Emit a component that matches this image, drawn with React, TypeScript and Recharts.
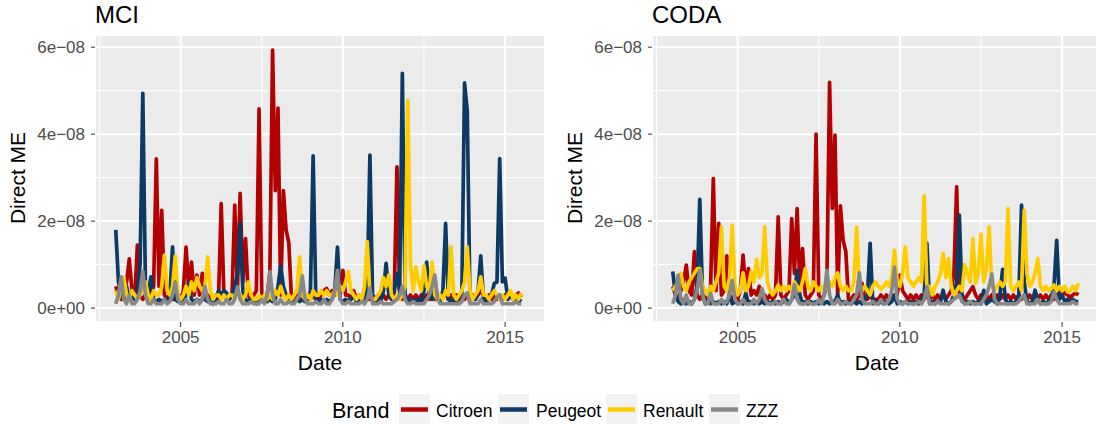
import { LineChart, Line, XAxis, YAxis, CartesianGrid, ReferenceLine } from 'recharts'

const brands = ['Citroen', 'Peugeot', 'Renault', 'ZZZ']
const brandColors = ['#b30000', '#0d3a64', '#ffcc00', '#888888']

const xTicks = [2005, 2010, 2015]
const xMinor = [2002.5, 2007.5, 2012.5]
const yTicks = [0, 20, 40, 60]
const yMinor = [10, 30, 50]
const yTickLabels = ['0e+00', '2e\u221208', '4e\u221208', '6e\u221208']

// monthly values, Jan 2003 .. Jul 2015, in units of 1e-9
const mciCitroen = [
  5, 3, 2, 4, 6, 11.3, 4, 2, 14.5, 3, 2, 3,
  2, 3, 5, 34.3, 5, 22.5, 3, 2, 3, 2, 2, 3,
  2, 4, 14, 4, 10.6, 3, 7.6, 3, 8, 2, 3, 2,
  2, 3, 2, 24, 3, 2, 2, 3, 23.7, 4, 26.4, 6,
  16, 3, 2, 3, 4, 45.8, 3, 2, 3, 8, 59.3, 27,
  46, 3, 27, 18, 15, 2, 2, 3, 2, 2, 3, 2,
  2, 3, 2, 2, 3, 4, 4.5, 3, 4, 3, 4, 3,
  8.7, 3, 3, 2, 4, 2, 3, 2, 3, 2, 2, 3,
  2, 3, 2, 3, 2, 3, 2, 3, 32.5, 3, 2, 3,
  2, 3, 2, 3, 2, 3, 2, 3, 2, 3, 2, 3,
  2, 3, 3.5, 2, 3, 2, 3, 2, 3, 2, 3, 2,
  3, 2, 3, 4, 3, 2, 3, 2, 3, 2, 3, 2,
  3, 2, 3, 2, 3, 3.5, 2.5,
]
const mciPeugeot = [
  18, 6, 3, 2, 5, 2, 3, 2, 4, 10, 49.4, 4,
  3, 7.2, 2, 1.5, 2, 1.5, 2, 1.5, 3, 14.1, 2, 1.5,
  2, 1.5, 3, 5.8, 2, 1.5, 2, 1.5, 2, 2, 1.5, 2,
  1, 2, 4, 3, 4, 3.5, 2, 3, 5, 8, 19.5, 4,
  2, 1.5, 2, 1.5, 1, 1.5, 2, 3, 1.5, 2, 1.5, 2,
  5, 9.7, 5, 3, 2, 1.5, 1.5, 2, 1.5, 2, 1.5, 2,
  4, 35, 2, 1.5, 2, 1.5, 2, 1.5, 2, 4, 14, 2,
  1.5, 2, 1.5, 2, 3, 1.5, 2, 1.5, 2, 4, 35.2, 2,
  1.5, 2, 1.5, 4, 10.3, 3, 2, 4, 8, 4, 54, 3,
  2, 1.5, 2, 1.5, 2, 1.5, 4, 10.6, 3, 2, 7, 2,
  1.5, 4, 19.5, 2, 1.5, 2, 1.5, 3, 3, 51.8, 45.5, 2,
  2, 2, 4, 12, 2, 1.5, 2, 3, 5.7, 6, 34.4, 6,
  6.9, 2, 3, 2, 1.5, 2, 1.5,
]
const mciRenault = [
  4, 2, 5, 7, 3, 2, 4, 3, 2, 3, 4, 6,
  3, 2, 4, 3, 3, 5, 12.2, 4, 3, 5, 12, 3,
  2, 3, 5, 3, 6, 4, 7, 5, 4, 5, 11.8, 4,
  2, 3, 3, 2, 3, 2, 3, 3, 2, 4, 3, 2,
  3, 6, 3, 2, 2, 3, 2, 3, 2, 3, 2, 4,
  3, 5, 3, 2, 3, 2, 3, 4, 11.8, 3, 2, 3,
  2, 4, 3, 3, 4, 3, 4, 3, 3, 4, 3, 5,
  4, 6, 8.4, 4, 3, 2, 3, 2, 5, 15.3, 3, 2,
  2, 3, 4, 7, 5, 7.6, 3, 2, 3, 2, 3, 5,
  47.8, 10, 4, 9.5, 6, 4, 9.8, 5, 4, 10.6, 3, 2,
  3, 2, 4, 3, 14.1, 3, 2, 3, 4, 6, 14.1, 4,
  2, 3, 4, 7.2, 3, 3, 2, 3, 4, 3, 2, 3,
  2, 3, 4, 2, 3, 2, 3.5,
]
const mciZzz = [
  1, 3, 7.2, 2, 1, 3, 1, 1, 2, 4, 8.5, 3,
  1, 1, 2, 1, 1, 1, 2, 1, 1.5, 3, 6, 2,
  1, 1, 2, 1, 1, 1, 2, 1, 2, 4.9, 2, 1,
  1, 1, 1.5, 1, 1, 2, 1, 1, 2, 4.9, 2, 1,
  1, 1, 1.5, 1, 1, 1, 2, 1, 3, 8.4, 3, 1,
  1, 2, 1, 1, 1.5, 1, 1, 2, 3, 7.4, 2, 1,
  1, 1, 1.5, 1, 1, 2, 1, 1, 2, 4, 8.7, 2,
  1, 1, 1.5, 1, 1, 1, 1, 1.5, 1, 2, 4.6, 1,
  1, 1, 1.5, 1, 1, 1, 1, 1.5, 2, 3, 5, 2,
  1, 1, 1.5, 1, 1, 1, 1, 2, 3, 5, 7.6, 2,
  1, 1, 1, 1, 1, 1, 1, 1, 1.5, 3, 3.5, 1,
  1, 1, 1, 2, 1, 1, 1, 1, 1.5, 2.5, 3, 1,
  1, 1, 1, 1, 1.5, 1, 1,
]

const codaCitroen = [
  5, 3, 2, 4, 6, 9.9, 4, 3, 13, 3, 2, 3,
  2, 3, 5, 29.8, 4, 19.5, 3, 4, 12, 3, 2, 3,
  2, 4, 12.2, 4, 9.1, 3, 4, 3, 5, 2, 3, 2,
  3, 2, 3, 21, 3, 2, 3, 4, 20.6, 8, 22.9, 5,
  13.7, 3, 2, 3, 4, 40, 3, 2, 3, 6, 51.9, 22.9,
  39.8, 3, 23.5, 15.6, 13, 2, 2, 3, 2, 3, 5.7, 2,
  2, 3, 2, 2, 2, 3, 2, 3, 2, 3, 2, 3,
  7.6, 4, 3, 2, 3, 2, 3, 2, 3, 2, 3, 2,
  3, 2, 3, 2, 3, 2, 3, 4, 8, 27.9, 3, 3,
  2, 3, 4, 4.9, 3, 2, 3, 2, 3, 2, 3, 2,
  3, 2, 3, 2, 3, 2, 3, 2, 3, 2, 3, 2,
  3, 2, 3, 2, 3, 2, 3, 2, 3, 2, 3, 3.5,
  3, 3.5, 3, 2.5, 3, 3.5, 3,
]
const codaPeugeot = [
  8.4, 3, 1.5, 1, 2, 1, 1.5, 1, 2, 5, 25, 3,
  1, 2, 1, 1.5, 1, 1.5, 1, 1.5, 1, 3, 1, 1.5,
  1, 1.5, 1, 3.5, 1, 1.5, 1, 1.5, 1, 1.5, 1, 1.5,
  1, 1.5, 1, 1.5, 1, 1.5, 2, 1, 2, 3, 8.7, 3,
  1, 1.5, 1, 1.5, 1, 1.5, 1, 1.5, 1, 1.5, 1, 1.5,
  1.5, 3, 1, 1.5, 1, 1.5, 1, 1.5, 1, 1.5, 1, 2,
  3, 14.9, 1, 1.5, 1, 1.5, 1, 1.5, 1, 1.5, 3, 1,
  1.5, 1, 1.5, 1, 1.5, 1, 1.5, 1, 2, 3, 14.9, 1,
  1.5, 1, 1.5, 1.5, 4.1, 1.5, 1, 1.5, 3, 6, 21.4, 2,
  1, 1.5, 1, 1.5, 1, 1.5, 1, 4.1, 1, 1.5, 2, 1.5,
  1, 3, 8.9, 2, 1, 1.5, 1, 1.5, 3, 23.7, 6, 1.5,
  1, 1.5, 4.1, 2, 1, 1.5, 1, 1.5, 2, 5, 15.6, 2,
  3, 1.5, 2, 1.5, 2, 1.5, 1.5,
]
const codaRenault = [
  4, 5, 6, 8, 5, 4, 6, 7, 8, 9, 9.1, 5,
  4, 3, 5, 4, 6, 8, 18.7, 5, 4, 7, 19.1, 5,
  3, 4, 8.1, 4, 5, 8.4, 6, 11.2, 7, 8, 18.7, 6,
  4, 3, 4, 5.3, 4, 5, 4, 5, 4, 6, 5, 4,
  6, 9.1, 5, 4, 6, 5, 4, 5, 4, 5, 6, 5,
  7, 8.1, 5, 4, 5, 4, 4, 6, 18.6, 5, 4, 5,
  4, 3, 5, 6, 5, 4.3, 5, 6, 5, 7, 13.3, 6,
  5, 8, 14.1, 7, 6, 5, 6, 7, 6, 25.8, 4, 5,
  3, 5, 6, 8, 12.6, 7, 11.4, 5, 3, 4, 5, 4,
  10, 8, 6, 16, 5.7, 8, 17, 6, 9, 18.7, 5, 4.1,
  5, 6, 5, 6, 22.9, 5, 4, 5, 6, 4, 22.5, 8,
  5, 6, 8, 11.4, 5, 4.1, 5, 4, 4.5, 5.3, 4, 5,
  4, 5, 3.7, 4, 5, 4, 5.7,
]
const codaZzz = [
  1, 3, 7.6, 2, 1, 3, 1, 1, 2, 4, 8.7, 3,
  1, 1, 3.4, 1, 1, 1, 2, 1, 1.5, 3, 6.4, 2,
  1, 1, 2, 1, 1, 1, 2, 1, 2, 4.5, 2, 1,
  1, 1, 1.5, 1, 1, 2, 1, 1, 2, 5.4, 2, 1,
  1, 1, 1.5, 1, 1, 1, 2, 1, 3, 8.7, 3, 1,
  1, 2, 1, 1, 1.5, 1, 1, 2, 3, 8.1, 2, 1,
  1, 1, 1.5, 1, 1, 2, 1, 1, 2, 4, 9.4, 2,
  1, 1, 1.5, 1, 1, 1, 1, 1.5, 1, 2, 4.9, 1,
  1, 1, 1.5, 1, 1, 1, 1, 1.5, 2, 2.5, 3, 1.5,
  1, 1, 1.5, 1, 1, 1, 1, 2, 3, 5, 7.8, 2,
  1, 1, 1, 1, 1, 1, 1, 1, 1.5, 2.5, 3, 1,
  1, 1, 1, 2, 1, 1, 1, 1, 1.5, 3.7, 2, 1,
  1, 1, 1, 1, 1.5, 1, 1,
]

const months = mciCitroen.map((_, i) => 2003 + i / 12)

function toRows(series: number[][]) {
  return months.map((date, i) => ({
    date,
    Citroen: series[0][i],
    Peugeot: series[1][i],
    Renault: series[2][i],
    ZZZ: series[3][i],
  }))
}

const FONT = '"Liberation Sans", Arial, Helvetica, sans-serif'

function Panel({ title, series, left }: { title: string; series: number[][]; left: number }) {
  const rows = toRows(series)
  return (
    <div style={{ position: 'absolute', left, top: 0, width: 550, height: 425 }}>
      <LineChart width={550} height={425} data={rows} margin={{ top: 35, right: 5, bottom: 73, left: 0 }}>
        <CartesianGrid fill="#ebebeb" stroke="#ffffff" strokeWidth={2} />
        {xMinor.map((v) => (
          <ReferenceLine key={'x' + v} x={v} stroke="#ffffff" strokeWidth={1} />
        ))}
        {yMinor.map((v) => (
          <ReferenceLine key={'y' + v} y={v} stroke="#ffffff" strokeWidth={1} />
        ))}
        <XAxis
          dataKey="date"
          type="number"
          domain={[2002.36, 2016.23]}
          allowDataOverflow
          ticks={xTicks}
          interval={0}
          axisLine={false}
          tickSize={5}
          tickMargin={4}
          tickLine={{ stroke: '#333333' }}
          tick={{ fill: '#4d4d4d', fontSize: 17 }}
          height={30}
        />
        <YAxis
          type="number"
          domain={[-3.2, 62.8]}
          allowDataOverflow
          ticks={yTicks}
          interval={0}
          width={95}
          axisLine={false}
          tickSize={4}
          tickMargin={6}
          tickLine={{ stroke: '#333333' }}
          tick={{ fill: '#4d4d4d', fontSize: 17 }}
          tickFormatter={(v: number) => yTickLabels[yTicks.indexOf(v)]}
        />
        {brands.map((b, i) => (
          <Line
            key={b}
            type="linear"
            dataKey={b}
            stroke={brandColors[i]}
            strokeWidth={3.7}
            strokeLinejoin="round"
            dot={false}
            activeDot={false}
            isAnimationActive={false}
          />
        ))}
      </LineChart>
      <svg width={550} height={425} style={{ position: 'absolute', left: 0, top: 0, pointerEvents: 'none' }}>
        <text x={95} y={23} fontSize={24} fill="#000">{title}</text>
        <text x={25} y={178} fontSize={21} fill="#000" textAnchor="middle" transform="rotate(-90 25 178)">Direct ME</text>
        <text x={320} y={370} fontSize={21} fill="#000" textAnchor="middle">Date</text>
      </svg>
    </div>
  )
}

const legendKeys = [399, 498, 606, 709]
const legendLabels = [436, 536, 643, 746]

export default function App() {
  return (
    <div style={{ position: 'absolute', left: 0, top: 0, width: 1096, height: 425, overflow: 'hidden', background: '#fff', fontFamily: FONT }}>
      <Panel title="MCI" series={[mciCitroen, mciPeugeot, mciRenault, mciZzz]} left={0} />
      <Panel title="CODA" series={[codaCitroen, codaPeugeot, codaRenault, codaZzz]} left={557} />
      <svg width={1096} height={425} style={{ position: 'absolute', left: 0, top: 0, pointerEvents: 'none' }}>
        <text x={332} y={418} fontSize={21.5} fill="#000">Brand</text>
        {brands.map((b, i) => (
          <g key={b}>
            <rect x={legendKeys[i]} y={394} width={31} height={30} fill="#f2f2f2" />
            <line x1={legendKeys[i] + 2} x2={legendKeys[i] + 29} y1={409.5} y2={409.5} stroke={brandColors[i]} strokeWidth={4.5} />
            <text x={legendLabels[i]} y={417} fontSize={17.5} fill="#000">{b}</text>
          </g>
        ))}
      </svg>
    </div>
  )
}
